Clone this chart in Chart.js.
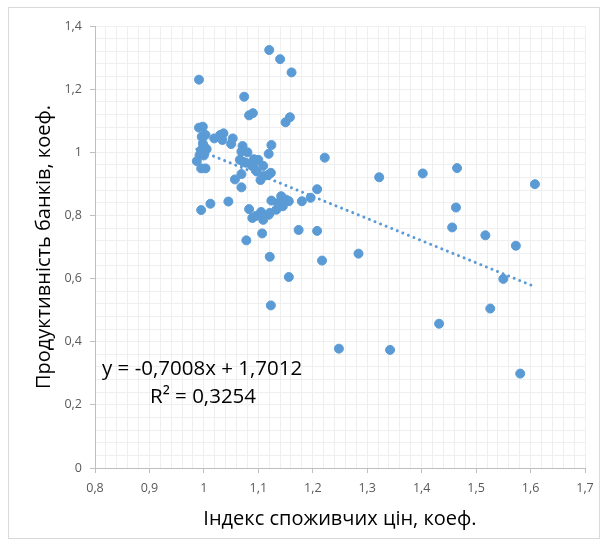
<!DOCTYPE html>
<html>
<head>
<meta charset="utf-8">
<script src="https://cdn.jsdelivr.net/npm/chart.js@4.4.0/dist/chart.umd.min.js"></script>
<style>
  body { margin: 0; background: #fff; }
  #wrap { position: relative; width: 603px; height: 546px; }
  #frame { position: absolute; left: 8px; top: 7px; width: 592px; height: 532px; border: 1px solid #d9d9d9; box-sizing: border-box; pointer-events: none; }
</style>
</head>
<body>
<div id="wrap">
  <canvas id="scatter" width="603" height="546"></canvas>
  <div id="frame"></div>
</div>
<script>
// Індекс споживчих цін (x) та продуктивність банків (y)
const cpi = [
  0.991, 1.120, 1.140, 1.161, 1.074, 1.083, 1.090, 1.150, 1.158, 0.991,
  0.998, 0.996, 1.003, 1.019, 1.030, 1.036, 1.034, 1.053, 1.050, 1.071,
  1.069, 1.080, 1.124, 1.119, 1.222, 0.987, 1.066, 1.077, 1.088, 1.092,
  1.097, 1.109, 0.995, 1.003, 1.111, 1.123, 1.104, 1.069, 1.057, 1.069,
  1.208, 1.322, 1.012, 0.995, 1.045, 1.083, 1.089, 1.095, 1.105, 1.109,
  1.119, 1.124, 1.142, 1.151, 1.156, 1.136, 1.145, 1.133, 1.121, 1.180,
  1.196, 1.174, 1.208, 1.107, 1.078, 1.121, 1.156, 1.217, 1.284, 1.123,
  1.248, 1.402, 1.465, 1.608, 1.463, 1.456, 1.517, 1.573, 1.550, 1.526,
  1.432, 1.342, 1.581, 1.000, 1.005, 0.995, 1.000, 0.998, 0.995, 0.992,
  1.072, 1.100, 1.118, 1.091
];
const productivity = [
  1.230, 1.324, 1.295, 1.253, 1.176, 1.117, 1.124, 1.095, 1.111, 1.078,
  1.081, 1.049, 1.055, 1.044, 1.055, 1.060, 1.039, 1.044, 1.026, 1.020,
  1.002, 1.000, 1.023, 0.995, 0.983, 0.972, 0.976, 0.967, 0.958, 0.978,
  0.939, 0.957, 0.949, 0.949, 0.926, 0.935, 0.912, 0.931, 0.914, 0.889,
  0.883, 0.921, 0.837, 0.817, 0.844, 0.820, 0.792, 0.798, 0.811, 0.786,
  0.802, 0.847, 0.861, 0.850, 0.845, 0.839, 0.829, 0.818, 0.808, 0.845,
  0.856, 0.754, 0.751, 0.743, 0.721, 0.669, 0.605, 0.657, 0.679, 0.515,
  0.378, 0.933, 0.950, 0.899, 0.825, 0.762, 0.737, 0.704, 0.599, 0.505,
  0.457, 0.374, 0.299, 1.020, 1.010, 1.000, 0.990, 1.028, 1.007, 0.991,
  0.970, 0.976, 0.928, 0.954
];

// лінія тренду
const slope = -0.7008;
const intercept = 1.7012;
const r2 = 0.3254;

const xTicks = [0.8, 0.9, 1, 1.1, 1.2, 1.3, 1.4, 1.5, 1.6, 1.7];
const yTicks = [0, 0.2, 0.4, 0.6, 0.8, 1, 1.2, 1.4];

const points = cpi.map((x, i) => ({ x: x, y: productivity[i] }));
const xMin = Math.min(...cpi), xMax = Math.max(...cpi);
const trend = [
  { x: xMin, y: slope * xMin + intercept },
  { x: xMax, y: slope * xMax + intercept }
];

const fmt = v => String(Math.round(v * 10) / 10).replace('.', ',');
const uaNum = v => String(v).replace('.', ',');

const tickFont = { family: '"Open Sans"', size: 12.5 };
const titleFont = { family: '"Open Sans"', size: 20 };

const equationLabel = {
  id: 'equationLabel',
  afterDraw(chart) {
    const ctx = chart.ctx;
    ctx.save();
    ctx.fillStyle = '#000';
    ctx.font = '20.5px "Open Sans"';
    ctx.textBaseline = 'middle';
    ctx.textAlign = 'left';
    ctx.fillText('y = ' + uaNum(slope) + 'x + ' + uaNum(intercept), 102, 369);
    ctx.fillText('R² = ' + uaNum(r2), 150, 397);
    ctx.restore();
  }
};

new Chart(document.getElementById('scatter'), {
  type: 'scatter',
  data: {
    datasets: [
      {
        type: 'line',
        data: trend,
        showLine: true,
        borderColor: '#5b9bd5',
        borderWidth: 3,
        borderDash: [0.01, 6],
        borderCapStyle: 'round',
        pointRadius: 0,
        fill: false
      },
      {
        data: points,
        backgroundColor: '#5b9bd5',
        borderColor: '#5b9bd5',
        borderWidth: 1,
        pointRadius: 4.5
      }
    ]
  },
  options: {
    responsive: false,
    animation: false,
    layout: { padding: { left: 0, top: 26, right: 18, bottom: 0 } },
    plugins: { legend: { display: false }, tooltip: { enabled: false } },
    scales: {
      x: {
        type: 'linear',
        min: 0.8, max: 1.7,
        afterBuildTicks: s => { s.ticks = xTicks.map(v => ({ value: v })); },
        ticks: { callback: fmt, font: tickFont, color: '#595959', padding: 8 },
        grid: { color: '#d9d9d9', tickColor: '#bfbfbf', tickLength: 5 },
        border: { color: '#bfbfbf' },
        title: { display: true, text: 'Індекс споживчих цін, коеф.', font: titleFont, color: '#000', padding: { top: 0, bottom: 15 } },
        afterFit: s => { s.height = 546 - 468; }
      },
      y: {
        type: 'linear',
        min: 0, max: 1.4,
        afterBuildTicks: s => { s.ticks = yTicks.map(v => ({ value: v })); },
        ticks: { callback: fmt, font: tickFont, color: '#595959', padding: 8 },
        grid: { color: '#d9d9d9', tickColor: '#bfbfbf', tickLength: 5 },
        border: { color: '#bfbfbf' },
        title: { display: true, text: 'Продуктивність банків, коеф.', font: titleFont, color: '#000', padding: { top: 32, bottom: 0 } },
        afterFit: s => { s.width = 95; }
      },
      xMinor: {
        type: 'linear',
        position: 'bottom',
        min: 0.8, max: 1.7,
        z: -1,
        ticks: { display: false, stepSize: 0.02 },
        grid: { color: '#efefef', drawTicks: false },
        border: { display: false },
        afterFit: s => { s.height = 0; }
      },
      yMinor: {
        type: 'linear',
        position: 'left',
        min: 0, max: 1.4,
        z: -1,
        ticks: { display: false, stepSize: 0.04 },
        grid: { color: '#efefef', drawTicks: false },
        border: { display: false },
        afterFit: s => { s.width = 0; }
      }
    }
  },
  plugins: [equationLabel]
});
</script>
</body>
</html>
